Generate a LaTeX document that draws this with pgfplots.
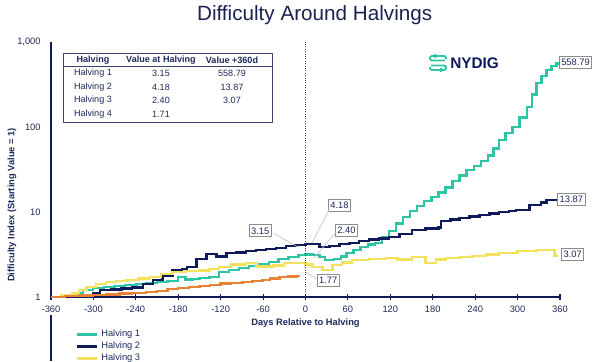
\documentclass[border=0pt]{standalone}
\usepackage{fontspec}
\setmainfont{Liberation Sans}
\usepackage{pgfplots}
\pgfplotsset{compat=1.18}
\definecolor{hteal}{HTML}{2DC5A5}
\definecolor{hnavy}{HTML}{0E1A5A}
\definecolor{hyellow}{HTML}{F4E25E}
\definecolor{horange}{HTML}{E88336}
\definecolor{htext}{HTML}{1E2A5A}
\definecolor{htitle}{HTML}{1A2350}
\definecolor{hgray}{HTML}{8C8C8C}
\definecolor{hlead}{HTML}{C4C4C4}
\begin{document}
\begin{tikzpicture}
\useasboundingbox (0,0) rectangle (450pt,270.75pt);
\begin{axis}[
  at={(38.25pt,48pt)}, anchor=south west,
  scale only axis, width=381.75pt, height=191.25pt,
  xmin=-360, xmax=360, ymin=1, ymax=1000, ymode=log,
  axis x line*=bottom, axis y line*=left,
  axis line style={draw=hnavy, line width=0.8pt, -},
  xtick={-360,-300,-240,-180,-120,-60,0,60,120,180,240,300,360},
  xticklabels={-360,-300,-240,-180,-120,-60,0,60,120,180,240,300,360},
  ytick={1,10,100,1000}, yticklabels={1,10,100,{1,000}},
  yminorticks=false,
  tick align=center,
  major tick length=4.5pt,
  x tick style={draw=hnavy, line width=0.8pt},
  y tick style={draw=none},
  tick label style={font=\fontsize{7}{8}\selectfont, text=htext},
  x tick label style={yshift=-1pt},
  y tick label style={xshift=-2pt},
  every axis title shift=0pt,
  title={Difficulty Around Halvings},
  title style={at={(axis description cs:0.518,1.106)}, anchor=center, font=\fontsize{15.5}{18}\selectfont, text=htitle},
  xlabel={Days Relative to Halving},
  xlabel style={at={(axis description cs:0.5,-0.102)}, anchor=center, font=\fontsize{7}{8}\selectfont\bfseries, text=htext},
  ylabel={Difficulty Index (Starting Value = 1)},
  ylabel style={at={(axis description cs:-0.0766,0.361)}, anchor=center, rotate=0, font=\fontsize{7}{8}\selectfont\bfseries, text=htext},
  legend entries={Halving 1, Halving 2, Halving 3},
  legend cell align=left,
  legend style={at={(axis description cs:0.049,-0.118)}, anchor=north west, draw=none, fill=none,
    font=\fontsize{7}{8}\selectfont, text=htext, row sep=-1.5pt, inner sep=0pt},
  legend image code/.code={\draw[#1, line width=1.8pt] (0pt,0pt) -- (15pt,0pt);},
  clip=false,
]
% Halving 1
\addplot[const plot, hteal, line width=1.8pt] coordinates {
(-360,1.0) (-345,1.05) (-330,1.12) (-315,1.2) (-301,1.28) (-285,1.32) (-270,1.35) (-255,1.38)
(-239,1.42) (-225,1.47) (-210,1.5) (-195,1.54) (-180,1.72) (-170,1.6) (-160,1.62) (-150,1.67)
(-136,1.72) (-122,1.97) (-108,2.08) (-94,2.2) (-80,2.32) (-66,2.45) (-52,2.6) (-38,2.8)
(-24,2.95) (-10,3.1) (0,3.15) (10,3.1) (20,2.95) (28,2.72) (40,2.78) (50,3.0) (58,3.3)
(68,3.55) (78,3.85) (88,4.15) (98,4.3) (108,5.0) (118,6.0) (128,7.3) (138,8.7) (148,10.2)
(158,11.8) (168,13.4) (178,15.0) (188,17.0) (198,19.5) (208,23) (218,27) (228,31) (238,35)
(248,40) (258,46) (266,56) (274,70) (283,85) (293,100) (303,130) (313,172) (320,240)
(327,329) (334,400) (341,468) (348,520) (355,558.79) (360,558.79)
};
% Halving 2
\addplot[const plot, hnavy, line width=1.8pt] coordinates {
(-360,1.0) (-345,1.02) (-330,1.04) (-315,1.05) (-300,1.12) (-291,1.2) (-275,1.22) (-260,1.26)
(-245,1.3) (-230,1.42) (-216,1.58) (-202,1.8) (-188,2.08) (-175,2.15) (-168,2.25) (-154,2.8)
(-140,3.2) (-126,3.0) (-112,3.3) (-98,3.35) (-84,3.45) (-70,3.6) (-56,3.7) (-42,3.8)
(-28,3.95) (-14,4.1) (0,4.18) (20,3.9) (34,4.0) (48,4.2) (62,4.35) (76,4.55) (90,4.75)
(104,4.9) (118,5.1) (133,5.5) (151,6.1) (170,6.4) (188,6.6) (192,7.8) (205,8.2) (218,8.5)
(232,8.85) (246,9.2) (260,9.6) (274,10.0) (288,10.3) (298,10.6) (317,12.1) (333,13.0)
(341,13.87) (360,13.87)
};
% Halving 3
\addplot[const plot, hyellow, line width=1.8pt] coordinates {
(-360,1.0) (-345,1.04) (-330,1.1) (-320,1.2) (-310,1.31) (-296,1.42) (-282,1.5) (-268,1.55)
(-253,1.58) (-236,1.65) (-220,1.72) (-204,1.85) (-188,1.97) (-170,2.02) (-150,2.05) (-136,2.15)
(-122,2.25) (-105,2.4) (-84,2.5) (-70,2.28) (-45,2.35) (-30,2.5) (-15,2.5) (0,2.40) (10,2.25)
(24,2.08) (38,2.38) (52,2.55) (66,2.72) (90,2.8) (114,2.87) (130,2.75) (151,2.95) (170,2.5)
(185,2.75) (199,2.87) (218,2.95) (236,3.04) (255,3.15) (274,3.3) (300,3.45) (327,3.57)
(352,3.07) (357,3.07)
};
% Halving 4
\addplot[const plot, horange, line width=1.8pt] coordinates {
(-360,1.0) (-340,1.02) (-320,1.04) (-301,1.05) (-282,1.07) (-263,1.1) (-245,1.12) (-226,1.14)
(-210,1.18) (-195,1.24) (-180,1.28) (-165,1.31) (-150,1.35) (-135,1.39) (-120,1.44) (-105,1.46)
(-89,1.5) (-75,1.54) (-61,1.58) (-50,1.65) (-37,1.72) (-24,1.74) (-13,1.77) (-8,1.77)
};
\draw[hnavy!70!gray, line width=0.7pt, dash pattern=on 0.8pt off 1pt] (axis cs:0,1) -- (axis cs:0,1000);
\tikzset{lbl/.style={draw=hgray, fill=white, line width=0.6pt, inner xsep=1.5pt, inner ysep=0pt,
  minimum height=9pt, font=\fontsize{7}{8}\selectfont, text=htext}}
\node[lbl] at (axis cs:-64,6.0) {3.15};
\node[lbl] at (axis cs:48,12.0) {4.18};
\node[lbl] at (axis cs:58,6.1) {2.40};
\node[lbl] at (axis cs:32,1.58) {1.77};
\node[lbl] at (axis cs:382,580) {558.79};
\node[lbl] at (axis cs:376,14.2) {13.87};
\node[lbl] at (axis cs:378,3.2) {3.07};
\end{axis}
\begin{scope}[x=0.75pt,y=-0.75pt,shift={(0pt,270.75pt)}]
% leader lines
\draw[hlead, line width=0.5pt] (273,233) -- (298,247);
\draw[hlead, line width=0.5pt] (329,210) -- (312,243);
\draw[hlead, line width=0.5pt] (336,232) -- (314,258);
\draw[hlead, line width=0.5pt] (317,279) -- (306,272);
% y axis extension
\draw[hnavy, line width=0.8pt] (51,315) -- (51,361);
% table
\draw[hnavy!60!gray, line width=0.6pt] (63,53) rectangle (272,122);
\draw[hnavy!60!gray, line width=0.6pt] (63,66) -- (272,66);
\begin{scope}[every node/.style={font=\fontsize{6.8}{8}\selectfont, text=htext, anchor=center}]
\node[font=\fontsize{6.8}{8}\selectfont\bfseries] at (93,60) {Halving};
\node[font=\fontsize{6.8}{8}\selectfont\bfseries] at (161,60) {Value at Halving};
\node[font=\fontsize{6.8}{8}\selectfont\bfseries] at (232,60) {Value +360d};
\node at (93,73.5) {Halving 1}; \node at (161,73.5) {3.15}; \node at (232,73.5) {558.79};
\node at (93,87) {Halving 2}; \node at (161,87) {4.18}; \node at (232,87) {13.87};
\node at (93,100.5) {Halving 3}; \node at (161,100.5) {2.40}; \node at (232,100.5) {3.07};
\node at (93,114) {Halving 4}; \node at (161,114) {1.71};
\end{scope}
% logo
\begin{scope}[hteal, line width=1.4pt, rounded corners=1.5pt]
\draw (446,59) -- (446,56) -- (430,56) -- (430,60.5) -- (445,60.5);
\draw (430,67) -- (430,70) -- (446,70) -- (446,65.5) -- (431,65.5);
\draw[line width=1.1pt] (435,54) -- (435,58);
\draw[line width=1.1pt] (441,68) -- (441,72);
\end{scope}
\node[font=\fontsize{11.5}{13}\selectfont\bfseries, text=hnavy, anchor=west, inner sep=0pt] at (450,63) {NYDIG};
\end{scope}
\end{tikzpicture}
\end{document}
